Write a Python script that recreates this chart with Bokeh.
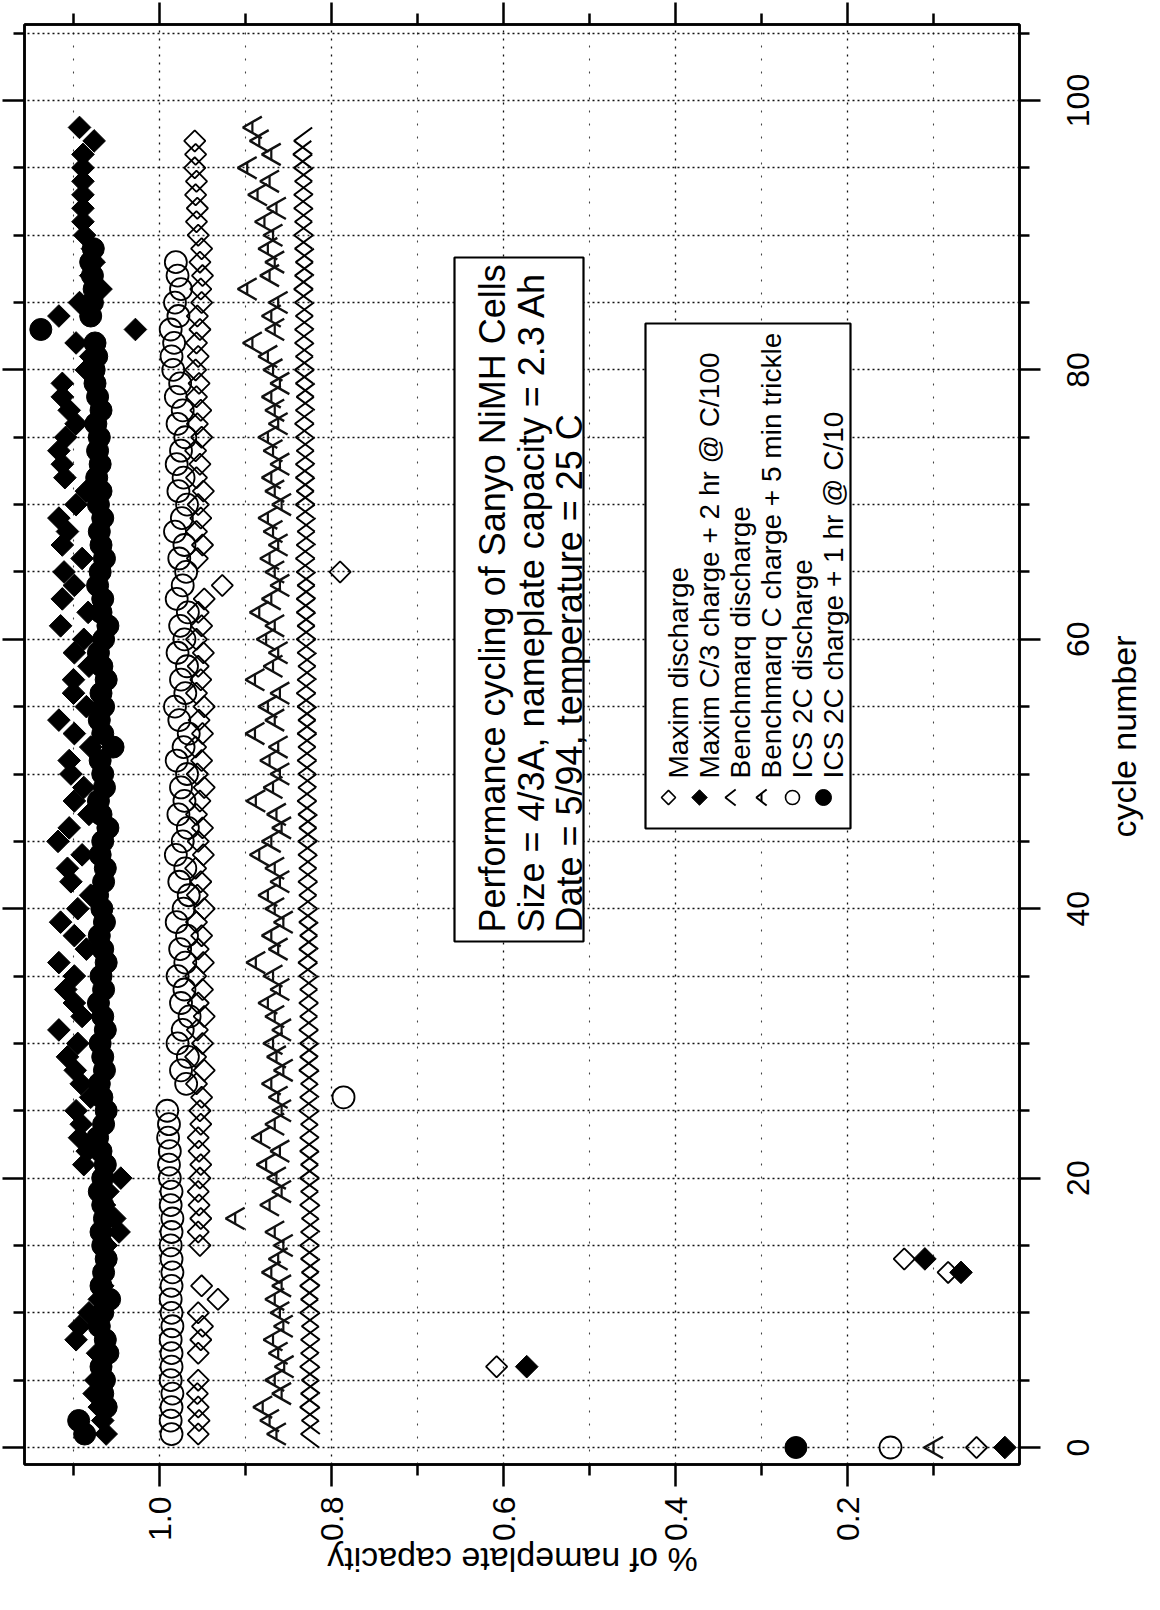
import math
from bokeh.plotting import figure
from bokeh.layouts import row, column
from bokeh.models import Range1d, FixedTicker, LinearAxis, BoxAnnotation, Label, Grid
from bokeh.embed import file_html
from bokeh.resources import INLINE

FONT = "Liberation Sans"

# ---------------- data ----------------
cap_ticks = [0.2, 0.4, 0.6, 0.8, 1.0]
cap_tick_labels = ["0.2", "0.4", "0.6", "0.8", "1.0"]
cap_minor = [0.1, 0.3, 0.5, 0.7, 0.9, 1.1]
cycle_ticks = [0, 20, 40, 60, 80, 100]
cycle_tick_labels = ["0", "20", "40", "60", "80", "100"]
cycle_minor = [5, 10, 15, 25, 30, 35, 45, 50, 55, 65, 70, 75, 85, 90, 95, 105]
cycle_grid = [0, 5, 10, 15, 20, 25, 30, 35, 40, 45, 50, 55, 60, 65, 70, 75, 80, 85, 90, 95, 100, 105]

# ICS 2C discharge (open circles), cycles 0..88
ics_dis_cycle = list(range(0, 89))
ics_dis = [
    0.150, 0.986, 0.987, 0.986, 0.985, 0.987, 0.986, 0.986, 0.987, 0.985,
    0.986, 0.987, 0.986, 0.985, 0.986, 0.987, 0.986, 0.985, 0.987, 0.986,
    0.988, 0.989, 0.988, 0.990, 0.989, 0.991, 0.786, 0.969, 0.975, 0.967,
    0.979, 0.973, 0.965, 0.975, 0.971, 0.979, 0.970, 0.976, 0.968, 0.980,
    0.972, 0.966, 0.977, 0.970, 0.981, 0.973, 0.967, 0.978, 0.971, 0.975,
    0.968, 0.980, 0.972, 0.966, 0.977, 0.982, 0.970, 0.975, 0.968, 0.979,
    0.971, 0.976, 0.967, 0.980, 0.973, 0.969, 0.977, 0.971, 0.982, 0.974,
    0.968, 0.978, 0.972, 0.980, 0.975, 0.970, 0.979, 0.973, 0.981, 0.976,
    0.984, 0.986, 0.983, 0.987, 0.978, 0.982, 0.975, 0.979, 0.981,
]

# Maxim discharge (open diamonds), cycles 0..97
max_dis_cycle = list(range(0, 98))
max_dis = [
    0.050, 0.955, 0.954, 0.955, 0.956, 0.955, 0.608, 0.955, 0.952, 0.950,
    0.955, 0.932, 0.951, 0.083, 0.134, 0.953, 0.955, 0.952, 0.954, 0.955,
    0.953, 0.952, 0.954, 0.955, 0.952, 0.953, 0.951, 0.957, 0.948, 0.958,
    0.950, 0.956, 0.948, 0.955, 0.950, 0.958, 0.949, 0.955, 0.951, 0.957,
    0.948, 0.956, 0.952, 0.958, 0.949, 0.955, 0.950, 0.957, 0.953, 0.948,
    0.956, 0.951, 0.958, 0.950, 0.954, 0.948, 0.957, 0.952, 0.955, 0.949,
    0.957, 0.951, 0.955, 0.948, 0.927, 0.790, 0.956, 0.950, 0.957, 0.952,
    0.955, 0.949, 0.957, 0.953, 0.958, 0.951, 0.956, 0.952, 0.957, 0.954,
    0.958, 0.955, 0.957, 0.953, 0.956, 0.951, 0.952, 0.950, 0.953, 0.951,
    0.955, 0.957, 0.956, 0.958, 0.957, 0.959, 0.958, 0.959,
]

# Maxim C/3 charge + 2 hr @ C/100 (filled diamonds), cycles 0..98
max_chg_cycle = list(range(0, 99))
max_chg = [
    0.017, 1.062, 1.066, 1.070, 1.076, 1.074, 0.573, 1.072, 1.097, 1.093,
    1.082, 1.070, 1.066, 0.068, 0.110, 1.062, 1.047, 1.052, 1.064, 1.060,
    1.045, 1.088, 1.084, 1.093, 1.091, 1.097, 1.080, 1.091, 1.098, 1.107,
    1.095, 1.117, 1.090, 1.099, 1.109, 1.099, 1.117, 1.085, 1.099, 1.115,
    1.095, 1.080, 1.103, 1.107, 1.090, 1.118, 1.105, 1.082, 1.099, 1.088,
    1.103, 1.105, 1.080, 1.099, 1.117, 1.085, 1.100, 1.100, 1.082, 1.099,
    1.088, 1.115, 1.083, 1.113, 1.099, 1.111, 1.090, 1.113, 1.107, 1.117,
    1.097, 1.085, 1.110, 1.113, 1.117, 1.109, 1.097, 1.105, 1.113, 1.113,
    1.085, 1.080, 1.097, 1.028, 1.117, 1.093, 1.068, 1.080, 1.076, 1.078,
    1.087, 1.089, 1.089, 1.089, 1.089, 1.089, 1.089, 1.076, 1.093,
]

# Benchmarq discharge (carets), cycles 1..97
bq_dis_cycle = list(range(1, 98))
bq_dis = [
    0.825, 0.824, 0.826, 0.825, 0.824, 0.826, 0.825, 0.825, 0.824, 0.826,
    0.825, 0.826, 0.824, 0.825, 0.826, 0.825, 0.824, 0.826, 0.825, 0.826,
    0.825, 0.826, 0.826, 0.825, 0.827, 0.826, 0.825, 0.827, 0.826, 0.826,
    0.827, 0.826, 0.827, 0.826, 0.827, 0.828, 0.827, 0.826, 0.827, 0.828,
    0.827, 0.828, 0.827, 0.828, 0.828, 0.827, 0.828, 0.829, 0.828, 0.828,
    0.829, 0.828, 0.829, 0.828, 0.829, 0.830, 0.829, 0.828, 0.829, 0.830,
    0.829, 0.830, 0.830, 0.829, 0.830, 0.831, 0.830, 0.829, 0.830, 0.831,
    0.830, 0.831, 0.831, 0.830, 0.831, 0.832, 0.831, 0.830, 0.831, 0.832,
    0.831, 0.832, 0.832, 0.831, 0.832, 0.833, 0.832, 0.831, 0.832, 0.833,
    0.832, 0.833, 0.833, 0.832, 0.833, 0.834, 0.833,
]

# Benchmarq C charge + 5 min trickle ("A" markers), cycles 0..98
bq_chg_cycle = list(range(0, 99))
bq_chg = [
    0.100, 0.864, 0.872, 0.880, 0.858, 0.866, 0.855, 0.862, 0.868, 0.856,
    0.860, 0.866, 0.858, 0.870, 0.862, 0.856, 0.866, 0.912, 0.872, 0.858,
    0.864, 0.876, 0.860, 0.882, 0.866, 0.858, 0.862, 0.870, 0.856, 0.864,
    0.868, 0.858, 0.866, 0.874, 0.860, 0.868, 0.888, 0.862, 0.870, 0.856,
    0.866, 0.874, 0.860, 0.866, 0.884, 0.870, 0.858, 0.864, 0.888, 0.868,
    0.860, 0.872, 0.862, 0.889, 0.866, 0.874, 0.860, 0.889, 0.868, 0.862,
    0.876, 0.866, 0.884, 0.870, 0.860, 0.866, 0.872, 0.862, 0.868, 0.874,
    0.858, 0.866, 0.870, 0.860, 0.868, 0.874, 0.862, 0.866, 0.870, 0.860,
    0.868, 0.874, 0.892, 0.866, 0.870, 0.862, 0.898, 0.872, 0.866, 0.874,
    0.868, 0.878, 0.864, 0.886, 0.872, 0.898, 0.870, 0.884, 0.892,
]

# ICS 2C charge + 1 hr @ C/10 (filled circles), cycles 0..89
ics_chg_cycle = list(range(0, 90))
ics_chg = [
    0.260, 1.087, 1.094, 1.062, 1.066, 1.064, 1.068, 1.060, 1.063, 1.070,
    1.066, 1.058, 1.068, 1.065, 1.062, 1.066, 1.068, 1.064, 1.066, 1.070,
    1.066, 1.063, 1.068, 1.072, 1.065, 1.062, 1.067, 1.070, 1.064, 1.066,
    1.069, 1.063, 1.066, 1.071, 1.065, 1.068, 1.062, 1.066, 1.070, 1.064,
    1.067, 1.072, 1.065, 1.063, 1.069, 1.066, 1.060, 1.068, 1.071, 1.064,
    1.066, 1.069, 1.054, 1.066, 1.070, 1.065, 1.068, 1.062, 1.067, 1.071,
    1.065, 1.060, 1.068, 1.066, 1.072, 1.069, 1.064, 1.068, 1.070, 1.066,
    1.071, 1.068, 1.073, 1.069, 1.072, 1.070, 1.074, 1.068, 1.072, 1.075,
    1.076, 1.073, 1.075, 1.138, 1.080, 1.078, 1.076, 1.078, 1.080, 1.077,
]

legend_labels = [
    "Maxim discharge",
    "Maxim C/3 charge + 2 hr @ C/100",
    "Benchmarq discharge",
    "Benchmarq C charge + 5 min trickle",
    "ICS 2C discharge",
    "ICS 2C charge + 1 hr @ C/10",
]
title_lines = [
    "Performance cycling of Sanyo NiMH Cells",
    "Size = 4/3A, nameplate capacity = 2.3 Ah",
    "Date = 5/94, temperature = 25 C",
]
x_title = "% of nameplate capacity"
y_title = "cycle number"


# ---------------- layout helpers (page pixel <-> data) ----------------
def cap_px(px):
    return 1.0 - (px - 167.0) / 860.0


def px_cap(cap):
    return 167.0 + (1.0 - cap) * 860.0


def cyc_px(py):
    return (1455.0 - py) / 13.47


# main plot: page x 8..1053, y 8..1498 ; frame page x 32..1027, y 32..1472
p = figure(width=1045, height=1490, output_backend="svg", toolbar_location=None,
           x_range=Range1d(cap_px(32), cap_px(1027)), y_range=Range1d(cyc_px(1472), cyc_px(32)),
           x_axis_location=None, y_axis_location=None,
           min_border_left=24, min_border_right=26, min_border_top=24, min_border_bottom=26,
           background_fill_color="white", border_fill_color="white")
p.outline_line_color = "black"
p.outline_line_width = 2.5
p.grid.visible = False

vgrid = Grid(dimension=0, ticker=FixedTicker(ticks=cap_ticks, minor_ticks=cap_minor),
             grid_line_color="#111111", grid_line_width=1.3, grid_line_dash="2 6",
             minor_grid_line_color="#444444", minor_grid_line_width=1.1, minor_grid_line_dash="2 11")
hgrid = Grid(dimension=1, ticker=FixedTicker(ticks=cycle_grid, minor_ticks=[]),
             grid_line_color="#111111", grid_line_width=1.4, grid_line_dash="2 3")
p.add_layout(vgrid)
p.add_layout(hgrid)


def tick_axis(major, minor, maj_len, min_len):
    ax = LinearAxis(ticker=FixedTicker(ticks=major, minor_ticks=minor))
    ax.axis_line_color = "black"
    ax.axis_line_width = 2.5
    ax.major_tick_in = 0
    ax.minor_tick_in = 0
    ax.major_tick_out = maj_len
    ax.minor_tick_out = min_len
    ax.major_tick_line_color = "black"
    ax.major_tick_line_width = 2.5
    ax.minor_tick_line_color = "black"
    ax.minor_tick_line_width = 2.5
    # tick labels are drawn in the side panels below/right, not by these axes
    ax.major_label_text_color = None
    ax.major_label_text_font_size = "1px"
    ax.major_label_standoff = 0
    return ax


p.add_layout(tick_axis(cap_ticks, cap_minor, 22, 11), "below")
p.add_layout(tick_axis(cap_ticks, cap_minor, 22, 11), "above")
p.add_layout(tick_axis(cycle_ticks, cycle_minor, 22, 11), "left")
p.add_layout(tick_axis(cycle_ticks, cycle_minor, 21, 10), "right")

# ---------------- data marks ----------------
CW, CB = 0.021, 1.0      # caret width (cap units) / half-height (cycles)
AW, AB = 0.022, 0.8


def caret_paths(vals, cycles, w, b):
    xs = [[v - w / 2, v + w / 2, v - w / 2] for v in vals]
    ys = [[c - b, c, c + b] for c in cycles]
    return xs, ys


p.scatter(ics_dis, ics_dis_cycle, marker="circle", size=22, fill_color=None,
          line_color="black", line_width=1.8)
p.scatter(max_dis, max_dis_cycle, marker="square", angle=math.pi / 4, size=15,
          fill_color=None, line_color="black", line_width=1.8)

xs, ys = caret_paths(bq_dis, bq_dis_cycle, CW, CB)
p.multi_line(xs, ys, line_color="black", line_width=2)

xs, ys = caret_paths(bq_chg, bq_chg_cycle, AW, AB)
p.multi_line(xs, ys, line_color="#111111", line_width=2.4)
p.segment(x0=bq_chg, y0=[c - AB / 2 for c in bq_chg_cycle], x1=bq_chg,
          y1=[c + AB / 2 for c in bq_chg_cycle], line_color="#111111", line_width=2.2)

p.scatter(ics_chg, ics_chg_cycle, marker="circle", size=22, fill_color="black",
          line_color="black", line_width=1)
p.scatter(max_chg, max_chg_cycle, marker="square", angle=math.pi / 4, size=16,
          fill_color="black", line_color="black", line_width=1)

# ---------------- title box ----------------
p.add_layout(BoxAnnotation(left=cap_px(462), right=cap_px(591), top=cyc_px(265), bottom=cyc_px(949),
                           fill_color="white", fill_alpha=1.0, line_color="black", line_alpha=1.0,
                           line_width=2.2, level="underlay"))
for line, bx in zip(title_lines, [500, 539, 577]):
    p.add_layout(Label(x=cap_px(bx), y=cyc_px(940), text=line, angle=math.pi / 2,
                       text_font=FONT, text_font_size="36px", text_color="black",
                       text_align="left", text_baseline="alphabetic"))

# ---------------- legend ----------------
p.add_layout(BoxAnnotation(left=cap_px(653), right=cap_px(858), top=cyc_px(331), bottom=cyc_px(836),
                           fill_color="white", fill_alpha=1.0, line_color="black", line_alpha=1.0,
                           line_width=2.2, level="underlay"))
row_base = [686, 717, 748, 779, 810, 841]
row_mid = [b - 10 for b in row_base]
ly = cyc_px(805)
for txt, bx in zip(legend_labels, row_base):
    p.add_layout(Label(x=cap_px(bx), y=cyc_px(786), text=txt, angle=math.pi / 2,
                       text_font=FONT, text_font_size="28px", text_color="black",
                       text_align="left", text_baseline="alphabetic"))

p.scatter([cap_px(row_mid[0])], [ly], marker="square", angle=math.pi / 4, size=10,
          fill_color=None, line_color="black", line_width=1.6)
p.scatter([cap_px(row_mid[1])], [ly], marker="square", angle=math.pi / 4, size=11,
          fill_color="black", line_color="black")
xs, ys = caret_paths([cap_px(row_mid[2])], [ly], 0.012, 0.6)
p.multi_line(xs, ys, line_color="black", line_width=1.8)
xs, ys = caret_paths([cap_px(row_mid[3])], [ly], 0.012, 0.6)
p.multi_line(xs, ys, line_color="black", line_width=2)
p.segment(x0=[cap_px(row_mid[3])], y0=[ly - 0.3], x1=[cap_px(row_mid[3])], y1=[ly + 0.3],
          line_color="black", line_width=2)
p.scatter([cap_px(row_mid[4])], [ly], marker="circle", size=14, fill_color=None,
          line_color="black", line_width=1.6)
p.scatter([cap_px(row_mid[5])], [ly], marker="circle", size=16, fill_color="black",
          line_color="black")


# ---------------- side panels holding the rotated axis texts ----------------
def blank(width, height, xr, yr, top=0, bottom=0):
    f = figure(width=width, height=height, output_backend="svg", toolbar_location=None,
               x_range=xr, y_range=yr, x_axis_location=None, y_axis_location=None,
               min_border_left=0, min_border_right=0, min_border_top=top, min_border_bottom=bottom,
               background_fill_color="white", border_fill_color="white")
    f.outline_line_color = None
    f.grid.visible = False
    return f


# right panel: page x 1053..1152, frame aligned with the main frame, shared cycle range
pr = blank(99, 1490, Range1d(1053, 1152), p.y_range, top=24, bottom=26)
for t, s in zip(cycle_ticks, cycle_tick_labels):
    pr.add_layout(Label(x=1085, y=t, text=s, angle=math.pi / 2, text_font=FONT,
                        text_font_size="32px", text_color="black",
                        text_align="center", text_baseline="middle"))
pr.add_layout(Label(x=1131, y=cyc_px(744), text=y_title, angle=math.pi / 2, text_font=FONT,
                    text_font_size="34px", text_color="black",
                    text_align="center", text_baseline="alphabetic"))

# bottom panel: page x 8..1152, page y 1498..1598 (y grows downwards)
pb = blank(1144, 100, Range1d(8, 1152), Range1d(1598, 1498))
for t, s in zip(cap_ticks, cap_tick_labels):
    pb.add_layout(Label(x=px_cap(t), y=1504, text=s, angle=math.pi / 2, text_font=FONT,
                        text_font_size="32px", text_color="black",
                        text_align="right", text_baseline="middle"))
pb.add_layout(Label(x=520, y=1567, text=x_title, angle=math.pi, text_font=FONT,
                    text_font_size="34px", text_color="black",
                    text_align="center", text_baseline="alphabetic"))

layout = column(row(p, pr), pb)
open("out.html", "w").write(file_html(layout, INLINE))
